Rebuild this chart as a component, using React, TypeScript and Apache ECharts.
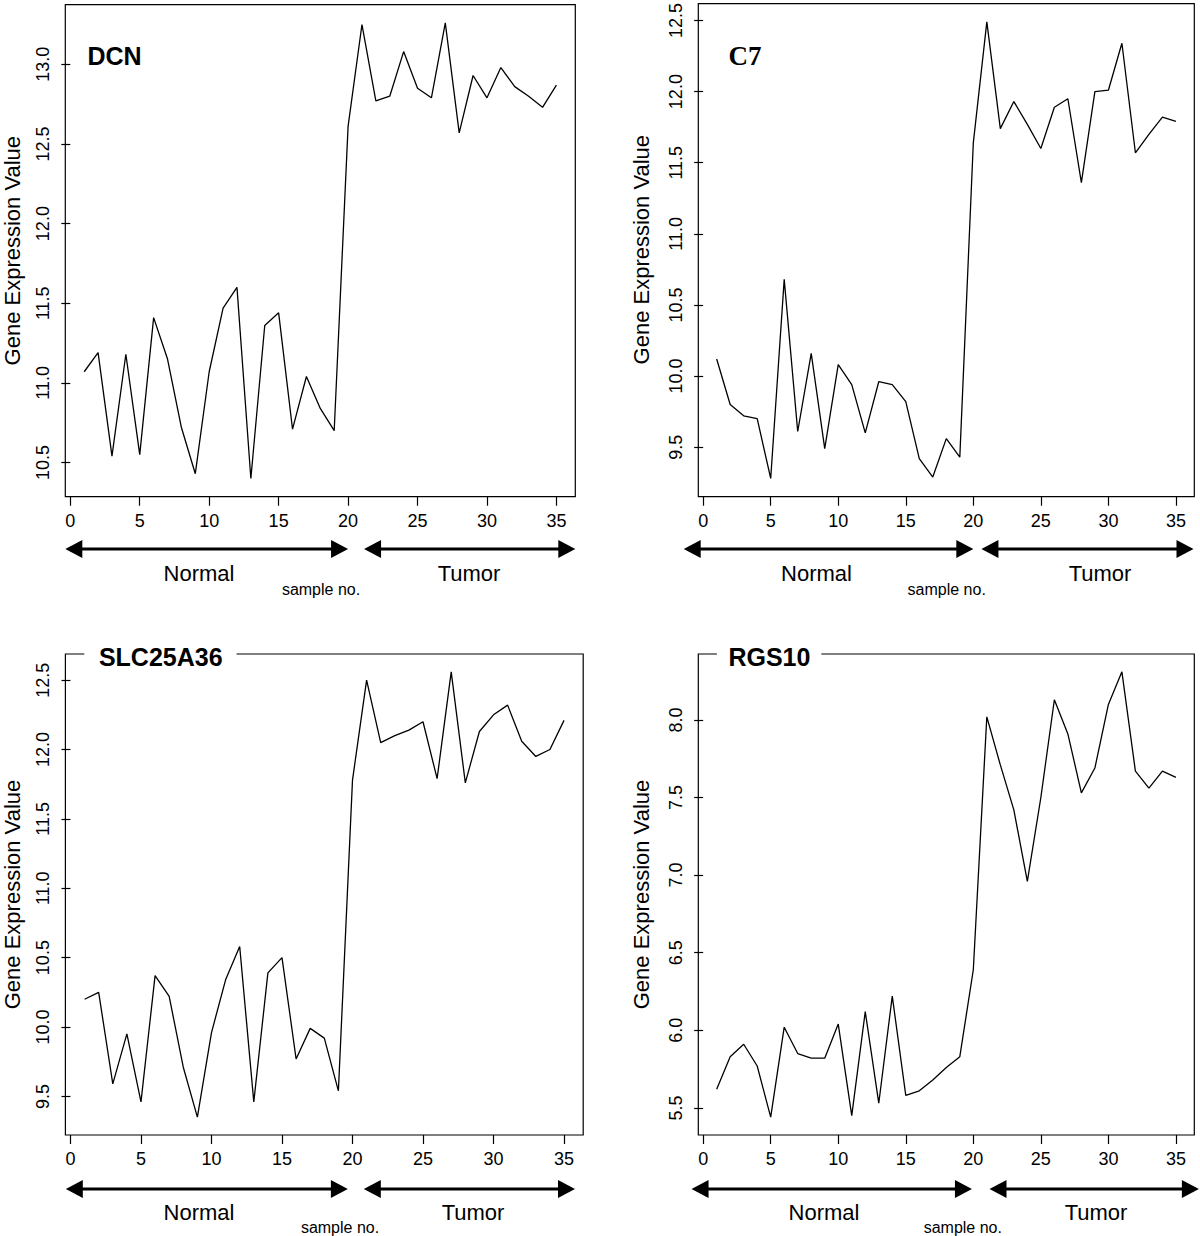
import React, { useEffect, useRef } from "react";
import * as echarts from "echarts";

const samples = [1, 2, 3, 4, 5, 6, 7, 8, 9, 10, 11, 12, 13, 14, 15, 16, 17, 18, 19, 20, 21, 22, 23, 24, 25, 26, 27, 28, 29, 30, 31, 32, 33, 34, 35];

const dcn = [11.07, 11.19, 10.54, 11.18, 10.55, 11.41, 11.15, 10.72, 10.43, 11.07, 11.47, 11.6, 10.4, 11.36, 11.44, 10.71, 11.04, 10.84, 10.7,
  12.61, 13.25, 12.77, 12.8, 13.08, 12.85, 12.79, 13.26, 12.57, 12.93, 12.79, 12.98, 12.86, 12.8, 12.73, 12.87];
const c7 = [10.12, 9.8, 9.72, 9.7, 9.28, 10.68, 9.61, 10.16, 9.49, 10.08, 9.94, 9.6, 9.96, 9.94, 9.82, 9.42, 9.29, 9.56, 9.43,
  11.64, 12.49, 11.74, 11.93, 11.77, 11.6, 11.89, 11.95, 11.36, 12.0, 12.01, 12.34, 11.57, 11.7, 11.82, 11.79];
const slc25a36 = [10.2, 10.25, 9.59, 9.95, 9.46, 10.37, 10.22, 9.71, 9.35, 9.96, 10.34, 10.58, 9.46, 10.39, 10.5, 9.77, 9.99, 9.92, 9.54,
  11.78, 12.5, 12.05, 12.1, 12.14, 12.2, 11.79, 12.56, 11.76, 12.13, 12.25, 12.32, 12.06, 11.95, 12.0, 12.21];
const rgs10 = [5.62, 5.83, 5.91, 5.77, 5.44, 6.02, 5.85, 5.82, 5.82, 6.04, 5.45, 6.12, 5.53, 6.22, 5.58, 5.61, 5.68, 5.76, 5.83,
  6.39, 8.02, 7.71, 7.42, 6.96, 7.5, 8.13, 7.91, 7.53, 7.69, 8.1, 8.31, 7.67, 7.56, 7.67, 7.63];

const xTicks = [0, 5, 10, 15, 20, 25, 30, 35];
const dcnTicks = [10.5, 11.0, 11.5, 12.0, 12.5, 13.0];
const c7Ticks = [9.5, 10.0, 10.5, 11.0, 11.5, 12.0, 12.5];
const slcTicks = [9.5, 10.0, 10.5, 11.0, 11.5, 12.0, 12.5];
const rgsTicks = [5.5, 6.0, 6.5, 7.0, 7.5, 8.0];

const FONT = "Liberation Sans, Arial, Helvetica, sans-serif";
const SERIF = "Liberation Serif";

type Panel = {
  gene: string;
  values: number[];
  yTicks: number[];
  grid: { left: number; top: number; width: number; height: number };
  titleFont: string;
  titleSize: number;
  titleLeft: number;
  titleTop: number;
  titlePad: number[];
  titleBg: string;
  yTitleX: number;
  normalArrow: [number, number];
  tumorArrow: [number, number];
  arrowY: number;
  normalText: [number, number];
  tumorText: [number, number];
  sampleText: [number, number];
};

const panels: Panel[] = [
  {
    gene: "DCN", values: dcn, yTicks: dcnTicks,
    grid: { left: 65.3, top: 4.7, width: 510, height: 492 },
    titleFont: FONT, titleSize: 25, titleLeft: 87.4, titleTop: 43.5, titlePad: [0, 0, 0, 0], titleBg: "transparent",
    yTitleX: 12.5,
    normalArrow: [-0.36, 20.0], tumorArrow: [21.15, 36.36], arrowY: 549,
    normalText: [199, 573], tumorText: [469, 573], sampleText: [321, 589],
  },
  {
    gene: "C7", values: c7, yTicks: c7Ticks,
    grid: { left: 698.3, top: 2.7, width: 496, height: 494 },
    titleFont: SERIF, titleSize: 27, titleLeft: 728.4, titleTop: 42.5, titlePad: [0, 0, 0, 0], titleBg: "transparent",
    yTitleX: 641,
    normalArrow: [-1.44, 20.0], tumorArrow: [20.6, 36.3], arrowY: 549,
    normalText: [816.5, 573], tumorText: [1100, 573], sampleText: [946.7, 589],
  },
  {
    gene: "SLC25A36", values: slc25a36, yTicks: slcTicks,
    grid: { left: 65.4, top: 654, width: 517.8, height: 481 },
    titleFont: FONT, titleSize: 25, titleLeft: 84.3, titleTop: 642.5, titlePad: [2, 14, 2, 14.6], titleBg: "#fff",
    yTitleX: 12.5,
    normalArrow: [-0.33, 19.67], tumorArrow: [20.8, 35.78], arrowY: 1189,
    normalText: [199, 1212], tumorText: [473, 1212], sampleText: [340, 1227],
  },
  {
    gene: "RGS10", values: rgs10, yTicks: rgsTicks,
    grid: { left: 698.3, top: 654, width: 496, height: 481 },
    titleFont: FONT, titleSize: 25, titleLeft: 716.9, titleTop: 642.5, titlePad: [2, 11, 2, 11.5], titleBg: "#fff",
    yTitleX: 641,
    normalArrow: [-0.86, 19.9], tumorArrow: [21.2, 36.7], arrowY: 1189,
    normalText: [824, 1212], tumorText: [1096, 1212], sampleText: [962.8, 1227],
  },
];

function extend(arr: number[]): [number, number] {
  const lo = Math.min(...arr);
  const hi = Math.max(...arr);
  const d = (hi - lo) * 0.04;
  return [lo - d, hi + d];
}

export default function App() {
  const ref = useRef<HTMLDivElement>(null);
  useEffect(() => {
    document.body.style.margin = "0";
    if (!ref.current) return;
    const chart = echarts.init(ref.current, null, { renderer: "svg" });
    const [xMin, xMax] = extend(samples);
    const grids: any[] = [];
    const xAxes: any[] = [];
    const yAxes: any[] = [];
    const series: any[] = [];
    const titles: any[] = [];
    panels.forEach((p, i) => {
      const [yMin, yMax] = extend(p.values);
      grids.push({ ...p.grid, show: true, borderColor: "#000", borderWidth: 1.2, backgroundColor: "transparent" });
      xAxes.push({
        gridIndex: i, type: "value", min: xMin, max: xMax,
        axisLine: { show: false }, splitLine: { show: false },
        axisTick: { show: true, length: 9, customValues: xTicks, lineStyle: { color: "#000", width: 1.2 } },
        axisLabel: { customValues: xTicks, fontSize: 18, color: "#000", fontFamily: FONT, margin: 15, formatter: (v: number) => String(v) },
      });
      yAxes.push({
        gridIndex: i, type: "value", min: yMin, max: yMax,
        axisLine: { show: false }, splitLine: { show: false },
        axisTick: { show: true, length: 9, customValues: p.yTicks, lineStyle: { color: "#000", width: 1.2 } },
        axisLabel: { customValues: p.yTicks, rotate: 90, fontSize: 18, color: "#000", fontFamily: FONT, margin: 13, formatter: (v: number) => v.toFixed(1) },
      });
      series.push({
        type: "line", xAxisIndex: i, yAxisIndex: i, symbol: "none",
        data: samples.map((s, k) => [s, p.values[k]]),
        lineStyle: { color: "#000", width: 1.3 },
      });
      titles.push({
        text: p.gene, left: p.titleLeft, top: p.titleTop, padding: p.titlePad,
        backgroundColor: p.titleBg, z: 20,
        textStyle: { fontSize: p.titleSize, fontWeight: "bold", fontFamily: p.titleFont, color: "#000" },
      });
    });
    chart.setOption({ animation: false, backgroundColor: "#fff", title: titles, grid: grids, xAxis: xAxes, yAxis: yAxes, series });

    const graphic: any[] = [];
    const head = 17;
    const hw = 9;
    panels.forEach((p, i) => {
      const cy = p.grid.top + p.grid.height / 2;
      graphic.push({
        type: "text", x: p.yTitleX, y: cy, rotation: Math.PI / 2, z: 10,
        style: { text: "Gene Expression Value", fontSize: 22, fontFamily: FONT, fill: "#000", textAlign: "center", textVerticalAlign: "middle" },
      });
      [p.normalArrow, p.tumorArrow].forEach((a) => {
        const x1 = chart.convertToPixel({ xAxisIndex: i }, a[0]) as number;
        const x2 = chart.convertToPixel({ xAxisIndex: i }, a[1]) as number;
        const y = p.arrowY;
        graphic.push({ type: "line", z: 10, shape: { x1: x1 + head - 2, y1: y, x2: x2 - head + 2, y2: y }, style: { stroke: "#000", lineWidth: 3 } });
        graphic.push({ type: "polygon", z: 10, shape: { points: [[x1, y], [x1 + head, y - hw], [x1 + head, y + hw]] }, style: { fill: "#000" } });
        graphic.push({ type: "polygon", z: 10, shape: { points: [[x2, y], [x2 - head, y - hw], [x2 - head, y + hw]] }, style: { fill: "#000" } });
      });
      graphic.push({ type: "text", x: p.normalText[0], y: p.normalText[1], z: 10, style: { text: "Normal", fontSize: 22, fontFamily: FONT, fill: "#000", textAlign: "center", textVerticalAlign: "middle" } });
      graphic.push({ type: "text", x: p.tumorText[0], y: p.tumorText[1], z: 10, style: { text: "Tumor", fontSize: 22, fontFamily: FONT, fill: "#000", textAlign: "center", textVerticalAlign: "middle" } });
      graphic.push({ type: "text", x: p.sampleText[0], y: p.sampleText[1], z: 10, style: { text: "sample no.", fontSize: 16, fontFamily: FONT, fill: "#000", textAlign: "center", textVerticalAlign: "middle" } });
    });
    chart.setOption({ graphic });
    return () => chart.dispose();
  }, []);
  return <div ref={ref} style={{ width: 1200, height: 1236 }} />;
}
